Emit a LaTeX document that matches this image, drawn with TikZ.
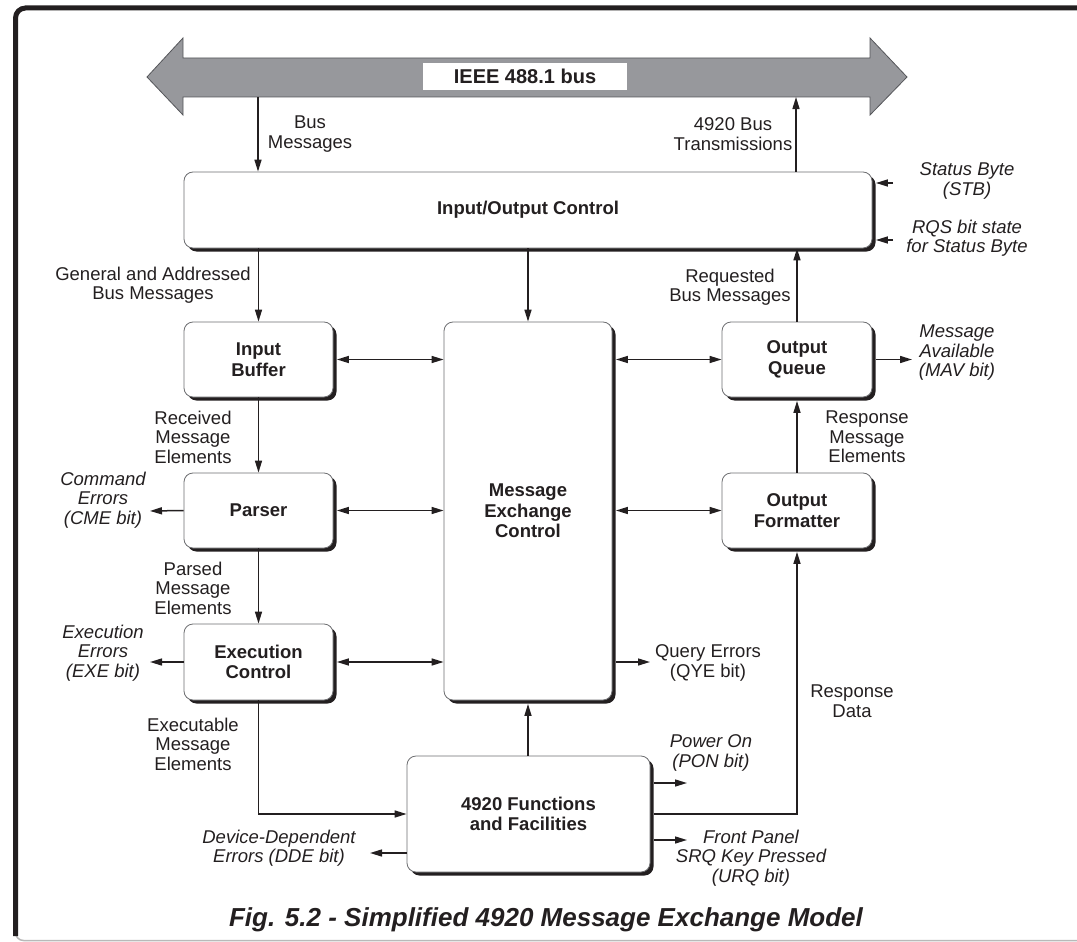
\documentclass[tikz,border=0pt]{standalone}
\usepackage{fontspec}
\setmainfont{Liberation Sans}
\usetikzlibrary{arrows.meta,shadows}
\definecolor{inkdark}{HTML}{231F20}
\definecolor{busgray}{HTML}{97989C}
\definecolor{busedge}{HTML}{55565A}
\definecolor{boxedge}{HTML}{6D6E71}

\begin{document}
\begin{tikzpicture}[
        x=1pt,y=-1pt,
        every node/.style={text=inkdark},
        blk/.style={draw=boxedge,line width=.8pt,rounded corners=9pt,fill=white,
                    drop shadow={shadow xshift=3.5pt,shadow yshift=-3.5pt,opacity=1,fill=inkdark},
                    font=\fontsize{18.5}{20.5}\selectfont\bfseries,align=center,inner sep=0pt},
        lbl/.style={font=\fontsize{18.5}{19.5}\selectfont,align=center,inner sep=0pt},
        ilbl/.style={lbl,font=\fontsize{18.5}{19.5}\selectfont\itshape},
        arr/.style={-{Triangle[length=12pt,width=7pt]},line width=1.5pt,inkdark},
        biarr/.style={{Triangle[length=12pt,width=7pt]}-{Triangle[length=12pt,width=7pt]},line width=1.5pt,inkdark}
      ]
        \useasboundingbox (0,0) rectangle (1077,942);
        % frame
        \draw[gray!55,line width=1.5pt,rounded corners=8pt] (15.5,900) -- (15.5,940.5) -- (1077,940.5);
        \draw[inkdark,line width=5pt,rounded corners=10pt] (15.5,936) -- (15.5,8) -- (1077,8);

        % bus
        \draw[fill=busgray,draw=busedge,line width=.8pt]
          (147,77) -- (183,38) -- (183,58) -- (870,58) -- (870,38) -- (907,77)
          -- (870,115) -- (870,97) -- (183,97) -- (183,115) -- cycle;
        \node[fill=white,minimum width=204pt,minimum height=27pt,inner sep=0pt,
              font=\fontsize{20}{22}\selectfont\bfseries] (bus) at (525,76.5) {IEEE 488.1 bus};
        \coordinate (busin) at (258,97);
        \coordinate (busout) at (796,97);

        % blocks
        \node[blk,minimum width=688pt,minimum height=76pt] (ioc) at (528,210) {Input/Output Control};
        \node[blk,minimum width=149pt,minimum height=75pt] (ib) at (258.5,359.5) {Input\\Buffer};
        \node[blk,minimum width=149pt,minimum height=75pt] (parser) at (258.5,510.5) {Parser};
        \node[blk,minimum width=149pt,minimum height=76pt] (exec) at (258.5,662) {Execution\\Control};
        \node[blk,minimum width=168pt,minimum height=378pt] (mec) at (528,511) {Message\\Exchange\\Control};
        \node[blk,minimum width=150pt,minimum height=75pt] (oq) at (797,359.5) {Output\\Queue};
        \node[blk,minimum width=150pt,minimum height=75pt] (of) at (797,510.5) {Output\\Formatter};
        \node[blk,minimum width=243pt,minimum height=116pt] (fnc) at (528.5,814) {4920 Functions\\and Facilities};

        % free ends
        \coordinate (stbin) at (893,183);
        \coordinate (rqsin) at (893,240);
        \coordinate (cmeout) at (150,511);
        \coordinate (exeout) at (150,662);
        \coordinate (ddeout) at (370,853);
        \coordinate (mavout) at (912,359.5);
        \coordinate (qyeout) at (650,662);
        \coordinate (ponout) at (687,783);
        \coordinate (urqout) at (687,840);

        % labels
        \node[lbl] (busmsg) at (310,134) {Bus\\Messages};
        \node[lbl] (bustx) at (733,134) {4920 Bus\\Transmissions};
        \node[ilbl] (stb) at (967,181) {Status Byte\\(STB)};
        \node[ilbl] (rqs) at (967,238) {RQS bit state\\for Status Byte};
        \node[lbl] (genmsg) at (153,285) {General and Addressed\\Bus Messages};
        \node[lbl] (reqmsg) at (730,287) {Requested\\Bus Messages};
        \node[lbl] (recvmsg) at (193,437) {Received\\Message\\Elements};
        \node[ilbl] (cme) at (103,500) {Command\\Errors\\(CME bit)};
        \node[lbl] (parsedmsg) at (193,588) {Parsed\\Message\\Elements};
        \node[ilbl] (exe) at (103,653) {Execution\\Errors\\(EXE bit)};
        \node[lbl] (execmsg) at (193,744) {Executable\\Message\\Elements};
        \node[ilbl] (dde) at (279,848) {Device-Dependent\\Errors (DDE bit)};
        \node[ilbl] (mav) at (957,353) {Message\\Available\\(MAV bit)};
        \node[lbl] (respmsg) at (867,437) {Response\\Message\\Elements};
        \node[lbl] (qye) at (708,663) {Query Errors\\(QYE bit)};
        \node[lbl] (respdata) at (852,701) {Response\\Data};
        \node[ilbl] (pon) at (711,753) {Power On\\(PON bit)};
        \node[ilbl] (urq) at (751,858) {Front Panel\\SRQ Key Pressed\\(URQ bit)};
        \node[font=\fontsize{26}{28}\selectfont\bfseries\itshape,inner sep=0pt] (title) at (546,920)
          {Fig. 5.2 - Simplified 4920 Message Exchange Model};

        % connectors
        \draw[arr] (busin) -- (busin |- ioc.north);
        \draw[arr] (ioc.north -| busout) -- (busout);
        \draw[arr] (stbin) -- ([xshift=3.5pt]ioc.east |- stbin);
        \draw[arr] (rqsin) -- ([xshift=3.5pt]ioc.east |- rqsin);
        \draw[arr] (ib.north |- ioc.south) -- (ib.north);
        \draw[arr] (mec.north |- ioc.south) -- (mec.north);
        \draw[arr] (oq.north) -- (oq.north |- ioc.south);
        \draw[biarr] ([xshift=3.5pt]ib.east) -- (ib.east -| mec.west);
        \draw[biarr] ([xshift=3.5pt]parser.east) -- (parser.east -| mec.west);
        \draw[biarr] ([xshift=3.5pt]exec.east) -- (exec.east -| mec.west);
        \draw[biarr] ([xshift=3.5pt]mec.east |- oq.west) -- (oq.west);
        \draw[biarr] ([xshift=3.5pt]mec.east |- of.west) -- (of.west);
        \draw[arr] (ib.south) -- (parser.north);
        \draw[arr] (parser.south) -- (exec.north);
        \draw[arr] (parser.west) -- (cmeout);
        \draw[arr] (exec.west) -- (exeout);
        \draw[arr] (exec.south) |- (fnc.west);
        \draw[arr] (fnc.west |- ddeout) -- (ddeout);
        \draw[arr] (fnc.north -| mec.south) -- ([yshift=-3.5pt]mec.south);
        \draw[arr] ([xshift=3.5pt]mec.east |- qyeout) -- (qyeout);
        \draw[arr] ([xshift=3.5pt]fnc.east |- ponout) -- (ponout);
        \draw[arr] ([xshift=3.5pt]fnc.east |- urqout) -- (urqout);
        \draw[arr] ([xshift=3.5pt]fnc.east) -| ([yshift=-3.5pt]of.south);
        \draw[arr] (of.north) -- ([yshift=-3.5pt]oq.south);
        \draw[arr] ([xshift=3.5pt]oq.east) -- (mavout);
      \end{tikzpicture}
\end{document}
